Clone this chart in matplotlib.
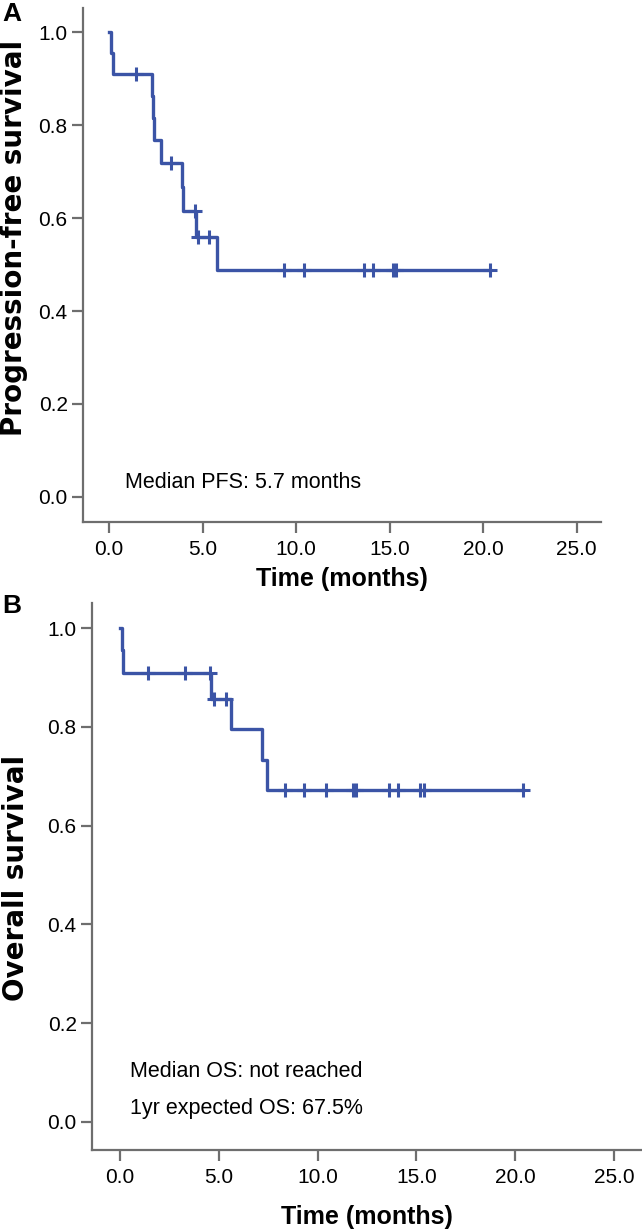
import matplotlib
matplotlib.use("Agg")
import matplotlib.pyplot as plt

plt.rcParams["font.family"] = ["Liberation Sans", "DejaVu Sans"]

# panel A: progression-free survival (step times and levels)
pfs_times = [0.0, 0.1, 0.2, 2.3, 2.35, 2.41, 2.78, 3.91, 3.96, 4.65, 5.78, 20.35]
pfs_surv = [1.0, 0.955, 0.909, 0.862, 0.815, 0.767, 0.718, 0.667, 0.615, 0.559, 0.489, 0.489]
pfs_cens_t = [1.45, 3.3, 4.6, 4.76, 5.35, 9.37, 10.4, 13.65, 14.1, 15.2, 15.35, 20.35]
pfs_cens_s = [0.909, 0.718, 0.615, 0.559, 0.559, 0.489, 0.489, 0.489, 0.489, 0.489, 0.489, 0.489]

# panel B: overall survival
os_times = [0.0, 0.1, 0.15, 4.6, 5.6, 7.2, 7.43, 20.4]
os_surv = [1.0, 0.955, 0.909, 0.856, 0.795, 0.734, 0.672, 0.672]
os_cens_t = [1.4, 3.3, 4.55, 4.76, 5.35, 8.35, 9.3, 10.4, 11.8, 11.95, 13.6, 14.05, 15.2, 15.4, 20.4]
os_cens_s = [0.909, 0.909, 0.909, 0.856, 0.856, 0.672, 0.672, 0.672, 0.672, 0.672,
             0.672, 0.672, 0.672, 0.672, 0.672]

xticks = [0, 5, 10, 15, 20, 25]
yticks = [0.0, 0.2, 0.4, 0.6, 0.8, 1.0]

blue = "#3b54a6"
spine_col = "#6e6e6e"

fig = plt.figure(figsize=(6.42, 12.3), dpi=100)
ax_a = fig.add_axes([0.1293, 0.5756, 0.8069, 0.4179])
ax_b = fig.add_axes([0.1433, 0.0650, 0.8567, 0.4447])


def style_axis(ax, xlim, ylim, ylabel, xlabelpad, label_xy):
    ax.set_xlim(*xlim)
    ax.set_ylim(*ylim)
    ax.set_xticks(xticks)
    ax.set_xticklabels([f"{t:.1f}" for t in xticks])
    ax.set_yticks(yticks)
    ax.set_yticklabels([f"{t:.1f}" for t in yticks])
    for side in ["top", "right"]:
        ax.spines[side].set_visible(False)
    for side in ["left", "bottom"]:
        ax.spines[side].set_color(spine_col)
        ax.spines[side].set_linewidth(1.6)
    ax.tick_params(direction="out", length=8, width=1.6, color=spine_col, labelsize=15)
    ax.tick_params(axis="y", pad=3)
    ax.tick_params(axis="x", pad=5)
    ax.set_xlabel("Time (months)", fontsize=18, fontweight="bold", labelpad=xlabelpad)
    # axis titles in the reference are drawn long and heavy
    ax.set_ylabel(ylabel, fontsize=20, fontweight="bold", family=["DejaVu Sans"])
    ax.yaxis.set_label_coords(*label_xy)


def draw_km(ax, times, surv, cens_t, cens_s):
    ax.step(times, surv, where="post", color=blue, lw=2.4)
    ax.plot(cens_t, cens_s, "+", color=blue, ms=10, mew=2.2)


draw_km(ax_a, pfs_times, pfs_surv, pfs_cens_t, pfs_cens_s)
style_axis(ax_a, (-1.39, 26.3), (-0.054, 1.052), "Progression-free survival", 6,
           (-0.106, 0.553))
ax_a.text(0.86, 0.032, "Median PFS: 5.7 months", fontsize=15.5, va="center", ha="left")

draw_km(ax_b, os_times, os_surv, os_cens_t, os_cens_s)
style_axis(ax_b, (-1.42, 26.42), (-0.057, 1.051), "Overall survival", 13,
           (-0.112, 0.497))
ax_b.text(0.5, 0.103, "Median OS: not reached", fontsize=15.5, va="center", ha="left")
ax_b.text(0.5, 0.028, "1yr expected OS: 67.5%", fontsize=15.5, va="center", ha="left")

# panel letters
fig.text(0.003, 0.998, "A", fontsize=19, fontweight="bold", va="top", ha="left")
fig.text(0.003, 0.517, "B", fontsize=19, fontweight="bold", va="top", ha="left")

fig.savefig("out.png", dpi=100)
